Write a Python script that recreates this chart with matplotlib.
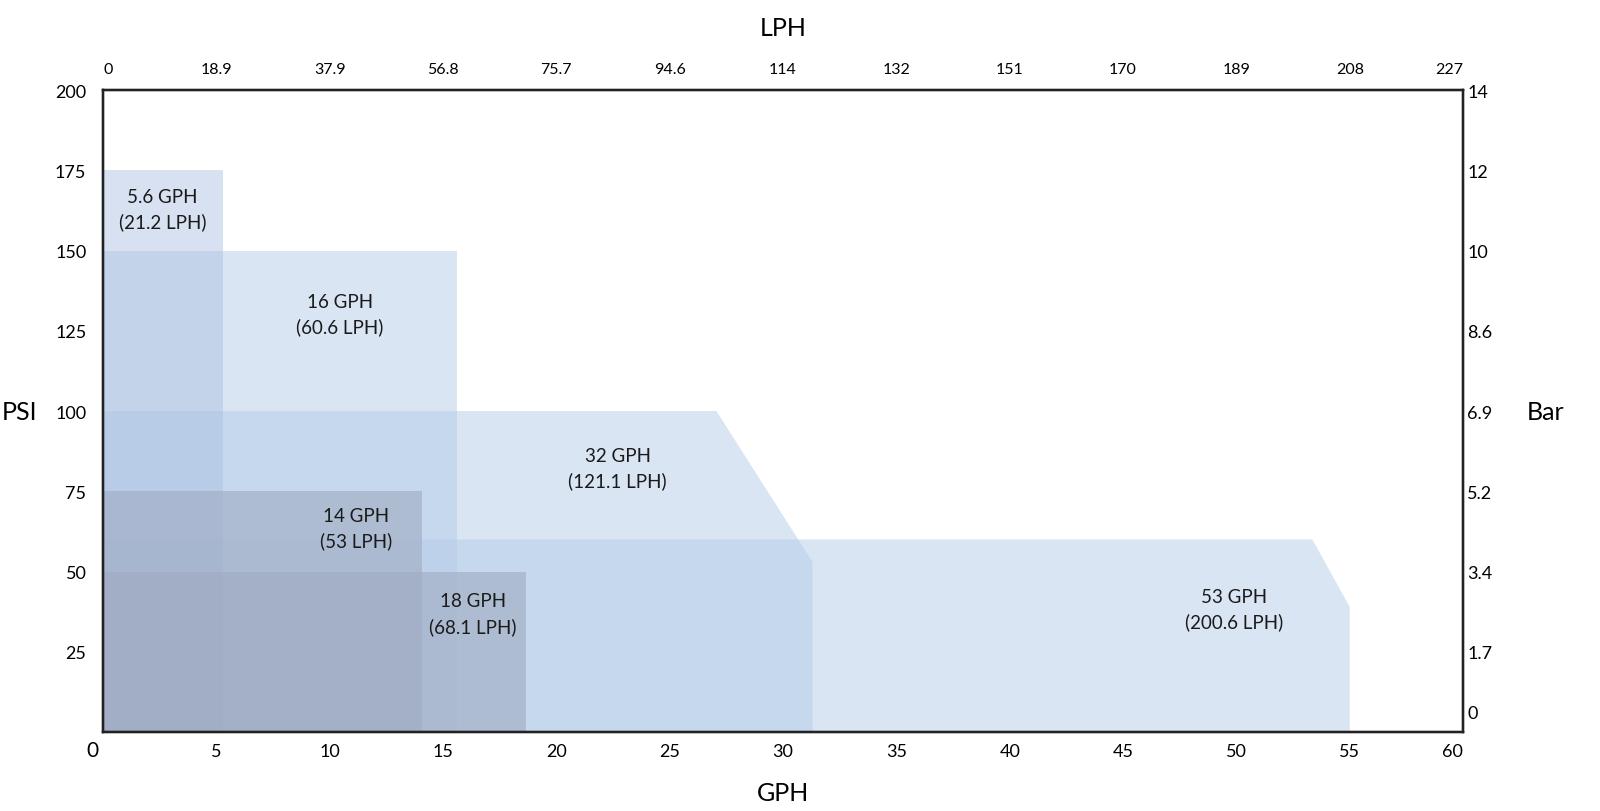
import matplotlib.pyplot as plt
import matplotlib.transforms as mtransforms

plt.rcParams['font.family'] = ['Lato', 'DejaVu Sans']

# axis ticks / labels
gph_ticks = [0, 5, 10, 15, 20, 25, 30, 35, 40, 45, 50, 55, 60]
lph_labels = ['0', '18.9', '37.9', '56.8', '75.7', '94.6', '114', '132',
              '151', '170', '189', '208', '227']
psi_ticks = [25, 50, 75, 100, 125, 150, 175, 200]
bar_pos = [6.5, 25, 50, 75, 100, 125, 150, 175, 200]
bar_labels = ['0', '1.7', '3.4', '5.2', '6.9', '8.6', '10', '12', '14']

# nozzle envelopes (GPH, PSI outlines)
n53_x = [0, 53.35, 55.0, 55.0, 0]
n53_y = [60, 60, 39, 0, 0]
n32_x = [0, 27.06, 31.3, 31.3, 0]
n32_y = [100, 100, 53, 0, 0]
n16_x = [0, 15.6, 15.6, 0]
n16_y = [150, 150, 0, 0]
n56_x = [0, 5.3, 5.3, 0]
n56_y = [175, 175, 0, 0]
n14_x = [0, 14.07, 14.07, 0]
n14_y = [75, 75, 0, 0]
n18_x = [0, 18.68, 18.68, 0]
n18_y = [50, 50, 0, 0]

label_text = ['5.6 GPH\n(21.2 LPH)', '16 GPH\n(60.6 LPH)', '32 GPH\n(121.1 LPH)',
              '14 GPH\n(53 LPH)', '18 GPH\n(68.1 LPH)', '53 GPH\n(200.6 LPH)']
label_x = [2.63, 10.44, 22.7, 11.18, 16.32, 49.9]
label_y = [163, 130.3, 82.3, 63.6, 36.9, 38.3]

fig = plt.figure(figsize=(16, 8.12), dpi=100)
ax = fig.add_axes([0.0644, 0.0973, 0.85, 0.7906])

light = '#b5cde9'
mid = '#a8bee0'
gray = '#9faac1'
ax.fill(n53_x, n53_y, color=light, alpha=0.5, lw=0)
ax.fill(n32_x, n32_y, color=light, alpha=0.5, lw=0)
ax.fill(n16_x, n16_y, color=light, alpha=0.5, lw=0)
ax.fill(n56_x, n56_y, color=mid, alpha=0.45, lw=0)
ax.fill(n14_x, n14_y, color=gray, alpha=0.6, lw=0)
ax.fill(n18_x, n18_y, color=gray, alpha=0.6, lw=0)

for t, x, y in zip(label_text, label_x, label_y):
    ax.text(x, y, t, ha='center', va='center', fontsize=13.5,
            linespacing=1.5, color='#1a1a1a')

ax.set_xlim(0, 60)
ax.set_ylim(0, 200)
for s in ax.spines.values():
    s.set_linewidth(1.6)
    s.set_color('#222222')

# bottom GPH axis (the 0 sits in the corner as its own text)
ax.set_xticks(gph_ticks[1:])
ax.set_xticklabels([str(v) for v in gph_ticks[1:]])
ax.get_xticklabels()[-1].set_ha('right')
ax.set_yticks(psi_ticks)
ax.tick_params(axis='x', length=0, pad=8, labelsize=13)
ax.tick_params(axis='y', length=0, pad=12, labelsize=13)

# top LPH axis
axt = ax.twiny()
axt.set_xlim(0, 60)
axt.set_xticks(gph_ticks)
axt.set_xticklabels(lph_labels)
first = axt.get_xticklabels()[0]
first.set_ha('left')
first.set_transform(first.get_transform()
                    + mtransforms.ScaledTranslation(0.04, 0, fig.dpi_scale_trans))
axt.get_xticklabels()[-1].set_ha('right')
axt.tick_params(axis='x', length=0, pad=10, labelsize=11.5)

# right Bar axis
axr = ax.twinx()
axr.set_ylim(0, 200)
axr.set_yticks(bar_pos)
axr.set_yticklabels(bar_labels)
axr.tick_params(axis='y', length=0, pad=3, labelsize=13)
for a in (axt, axr):
    for s in a.spines.values():
        s.set_linewidth(1.6)
        s.set_color('#222222')

fig.text(92 / 1600, 1 - 751 / 812, '0', ha='center', va='center', fontsize=15)
fig.text(20 / 1600, 1 - 412 / 812, 'PSI', ha='center', va='center', fontsize=18)
fig.text(1546 / 1600, 1 - 412 / 812, 'Bar', ha='center', va='center', fontsize=18)
fig.text(783 / 1600, 1 - 28 / 812, 'LPH', ha='center', va='center', fontsize=18)
fig.text(783 / 1600, 1 - 794 / 812, 'GPH', ha='center', va='center', fontsize=18)

fig.savefig('out.png', dpi=100, facecolor='white')
